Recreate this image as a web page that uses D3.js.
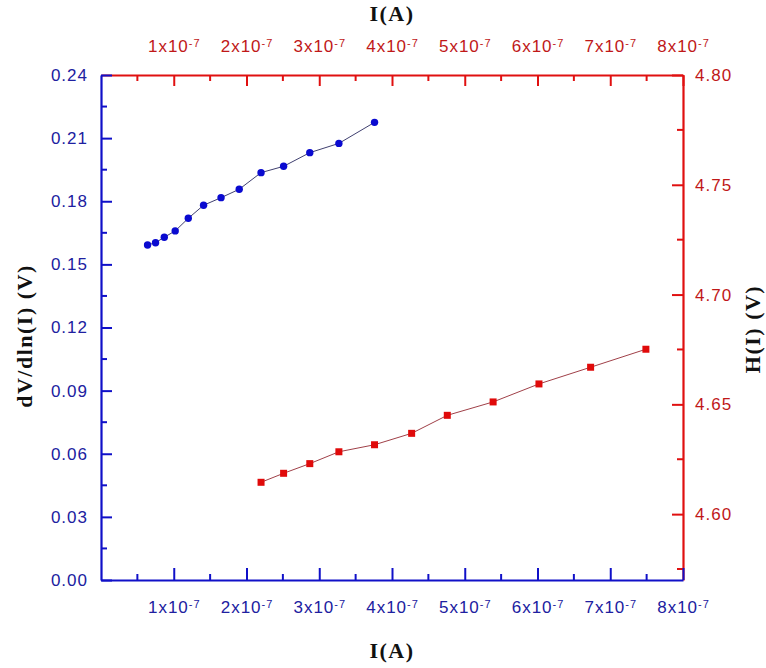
<!DOCTYPE html>
<meta charset="utf-8">
<style>
body { margin: 0; background: #fff; }
.tick text { font: 17px "Liberation Sans", Arial, sans-serif; letter-spacing: 1px; }
.title { font: bold 22px "Liberation Serif", "Times New Roman", serif; fill: #111; letter-spacing: 1.5px; }
</style>
<svg width="766" height="668"></svg>
<script src="https://cdnjs.cloudflare.com/ajax/libs/d3/7.8.5/d3.min.js"></script>
<script>

// blue series: dV/dln(I) vs I (units of 1e-7 A)
var blueI = [0.64, 0.75, 0.87, 1.02, 1.20, 1.41, 1.65, 1.90, 2.20, 2.51, 2.87, 3.27, 3.76];
var blueV = [0.1592, 0.1603, 0.1629, 0.1659, 0.1719, 0.1781, 0.1817, 0.1857, 0.1936, 0.1966, 0.2031, 0.2075, 0.2175];

// red series: H(I) vs I (units of 1e-7 A)
var redI = [2.20, 2.51, 2.87, 3.27, 3.76, 4.27, 4.76, 5.39, 6.02, 6.73, 7.49];
var redH = [4.6145, 4.6186, 4.6230, 4.6284, 4.6316, 4.6368, 4.6450, 4.6511, 4.6593, 4.6669, 4.6751];

var xTicks = [1, 2, 3, 4, 5, 6, 7, 8];
var leftTicks = [0, 0.03, 0.06, 0.09, 0.12, 0.15, 0.18, 0.21, 0.24];
var rightTicks = [4.60, 4.65, 4.70, 4.75, 4.80];

var blue = "#1010c8", blueText = "#2020a0",
    red = "#e01010", redText = "#c01818";

var svg = d3.select("svg"),
    margin = {top: 75, right: 83, bottom: 88, left: 101},
    width = +svg.attr("width") - margin.left - margin.right,
    height = +svg.attr("height") - margin.top - margin.bottom,
    g = svg.append("g").attr("transform", "translate(" + margin.left + "," + margin.top + ")");

var x = d3.scaleLinear().domain([0, 8]).range([0, width]);
var yL = d3.scaleLinear().domain([0, 0.24]).range([height, 0]);
var yR = d3.scaleLinear().domain([4.57, 4.80]).range([height, 0]);

function supLabel(sel, color) {
  sel.each(function(d) {
    var t = d3.select(this).text(null).attr("fill", color);
    t.append("tspan").text(d + "x10");
    t.append("tspan").attr("dy", "-0.45em").attr("font-size", "11px").text("-7");
  });
}

function styleAxis(ax, color, textColor) {
  ax.select(".domain").attr("stroke", color).attr("stroke-width", 2.2);
  ax.selectAll(".tick line").attr("stroke", color).attr("stroke-width", 2);
  ax.selectAll(".tick text").attr("fill", textColor);
}

// minor ticks (inward), drawn first
function minor(scale, vals, orient, color, pos) {
  g.append("g").selectAll("line").data(vals).enter().append("line")
    .attr("stroke", color).attr("stroke-width", 2)
    .each(function(d) {
      var l = d3.select(this);
      if (orient === "bottom" || orient === "top") {
        var dir = orient === "bottom" ? -1 : 1;
        l.attr("x1", scale(d)).attr("x2", scale(d)).attr("y1", pos).attr("y2", pos + dir * 6);
      } else {
        var dir2 = orient === "left" ? 1 : -1;
        l.attr("y1", scale(d)).attr("y2", scale(d)).attr("x1", pos).attr("x2", pos + dir2 * 6);
      }
    });
}

minor(x, d3.range(0.5, 8, 1), "bottom", blue, height);
minor(x, d3.range(0.5, 8, 1), "top", red, 0);
minor(yL, d3.range(0.015, 0.24, 0.03), "left", blue, 0);
minor(yR, [4.575, 4.625, 4.675, 4.725, 4.775], "right", red, width);

// top axis (red)
var topAxis = g.append("g")
  .call(d3.axisTop(x).tickValues(xTicks).tickSizeInner(-11).tickSizeOuter(0).tickPadding(23));
topAxis.selectAll(".tick text").call(supLabel, redText);
styleAxis(topAxis, red, redText);

// right axis (red)
var rightAxis = g.append("g").attr("transform", "translate(" + width + ",0)")
  .call(d3.axisRight(yR).tickValues(rightTicks).tickFormat(d3.format(".2f")).tickSizeInner(-11).tickSizeOuter(0).tickPadding(12));
styleAxis(rightAxis, red, redText);

// bottom axis (blue)
var bottomAxis = g.append("g").attr("transform", "translate(0," + height + ")")
  .call(d3.axisBottom(x).tickValues(xTicks).tickSizeInner(-12).tickSizeOuter(0).tickPadding(21));
bottomAxis.selectAll(".tick text").call(supLabel, blueText);
styleAxis(bottomAxis, blue, blueText);

// left axis (blue)
var leftAxis = g.append("g")
  .call(d3.axisLeft(yL).tickValues(leftTicks).tickFormat(d3.format(".2f")).tickSizeInner(-11).tickSizeOuter(0).tickPadding(13));
styleAxis(leftAxis, blue, blueText);

// red series
var redData = redI.map(function(d, i) { return [d, redH[i]]; });
g.append("path").datum(redData)
  .attr("fill", "none").attr("stroke", "#a04048").attr("stroke-width", 1)
  .attr("d", d3.line().x(function(d) { return x(d[0]); }).y(function(d) { return yR(d[1]); }));
g.selectAll(".sq").data(redData).enter().append("rect")
  .attr("x", function(d) { return x(d[0]) - 3.5; })
  .attr("y", function(d) { return yR(d[1]) - 3.5; })
  .attr("width", 7).attr("height", 7).attr("fill", "#e00a0a");

// blue series
var blueData = blueI.map(function(d, i) { return [d, blueV[i]]; });
g.append("path").datum(blueData)
  .attr("fill", "none").attr("stroke", "#404070").attr("stroke-width", 1)
  .attr("d", d3.line().x(function(d) { return x(d[0]); }).y(function(d) { return yL(d[1]); }));
g.selectAll(".dot").data(blueData).enter().append("circle")
  .attr("cx", function(d) { return x(d[0]); })
  .attr("cy", function(d) { return yL(d[1]); })
  .attr("r", 3.7).attr("fill", "#0a0ad0");

// titles
svg.append("text").attr("class", "title").attr("text-anchor", "middle")
  .attr("x", margin.left + width / 2).attr("y", 21).text("I(A)");
svg.append("text").attr("class", "title").attr("text-anchor", "middle")
  .attr("x", margin.left + width / 2).attr("y", 658).text("I(A)");
svg.append("text").attr("class", "title").attr("text-anchor", "middle")
  .attr("transform", "translate(32,336) rotate(-90)").text("dV/dln(I) (V)");
svg.append("text").attr("class", "title").attr("text-anchor", "middle")
  .attr("transform", "translate(760,329) rotate(-90)").text("H(I) (V)");

</script>
